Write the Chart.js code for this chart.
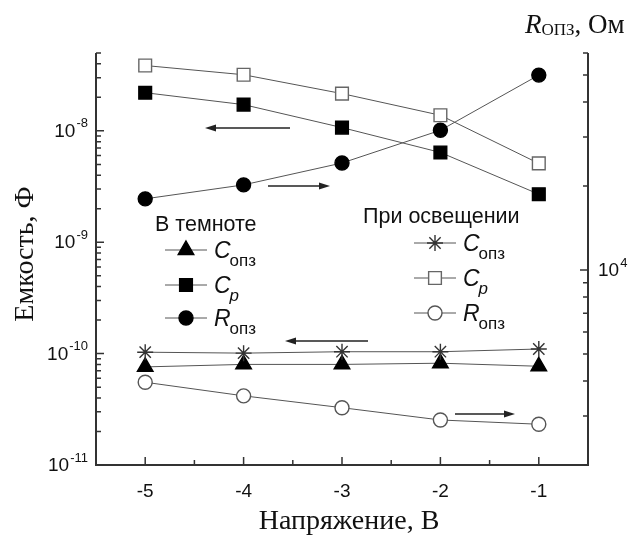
<!DOCTYPE html>
<html>
<head>
<meta charset="utf-8">
<script src="https://cdn.jsdelivr.net/npm/chart.js@4.4.0/dist/chart.umd.min.js"></script>
<style>
  html, body { margin: 0; padding: 0; background: #fff; }
  #wrap { width: 633px; height: 541px; }
</style>
</head>
<body>
<div id="wrap"><canvas id="chart" width="633" height="541"></canvas></div>
<script>
// напряжение, В
const voltage = [-5, -4, -3, -2, -1];

// емкость, Ф (левая ось)
const cpDark = [2.2e-8, 1.72e-8, 1.07e-8, 6.4e-9, 2.7e-9];
const cpLight = [3.86e-8, 3.19e-8, 2.16e-8, 1.38e-8, 5.1e-9];
const cDark = [7.6e-11, 8.0e-11, 8.0e-11, 8.2e-11, 7.7e-11];
const cLight = [1.03e-10, 1.01e-10, 1.04e-10, 1.04e-10, 1.10e-10];

// сопротивление ОПЗ, Ом (правая ось)
const rDark = [18000, 20200, 24200, 31700, 50000];
const rLight = [3960, 3540, 3210, 2900, 2800];

// подписи осей
const xTicks = [-5, -4, -3, -2, -1];
const xTickLabels = ['-5', '-4', '-3', '-2', '-1'];
const capDecades = [-11, -10, -9, -8];
const resDecades = [4];

const SANS = '"Liberation Sans", Arial, sans-serif';
const SERIF = '"Liberation Serif", "Times New Roman", serif';
const LINE = '#555';

const pts = arr => arr.map((v, i) => ({ x: voltage[i], y: v }));

function series(data, axis, style, radius, fill, stroke) {
  return {
    data: pts(data),
    yAxisID: axis,
    borderColor: LINE,
    borderWidth: 1,
    pointStyle: style,
    pointRadius: radius,
    pointBackgroundColor: fill,
    pointBorderColor: stroke,
    pointBorderWidth: 1.4,
    tension: 0
  };
}

function drawMarker(ctx, style, r, x, y, fill, stroke) {
  ctx.save();
  ctx.fillStyle = fill;
  ctx.strokeStyle = stroke;
  ctx.lineWidth = 1.4;
  Chart.helpers.drawPoint(ctx, { pointStyle: style, radius: r, borderWidth: 1.4 }, x, y);
  ctx.restore();
}

function sup(ctx, base, exp, xRight, y, align) {
  ctx.font = '19px ' + SANS;
  const wb = ctx.measureText(base).width;
  ctx.font = '13px ' + SANS;
  const we = ctx.measureText(exp).width;
  let x0 = align === 'right' ? xRight - wb - we - 1 : xRight;
  ctx.textBaseline = 'middle';
  ctx.textAlign = 'left';
  ctx.font = '19px ' + SANS;
  ctx.fillText(base, x0, y + 1);
  ctx.font = '13px ' + SANS;
  ctx.fillText(exp, x0 + wb + 1, y - 7);
}

function arrow(ctx, x1, y, x2) {
  const dir = x2 > x1 ? 1 : -1;
  ctx.save();
  ctx.strokeStyle = '#222';
  ctx.fillStyle = '#222';
  ctx.lineWidth = 1.6;
  ctx.beginPath();
  ctx.moveTo(x1, y);
  ctx.lineTo(x2 - dir * 6, y);
  ctx.stroke();
  ctx.beginPath();
  ctx.moveTo(x2, y);
  ctx.lineTo(x2 - dir * 11, y - 3.5);
  ctx.lineTo(x2 - dir * 11, y + 3.5);
  ctx.closePath();
  ctx.fill();
  ctx.restore();
}

function legendEntry(ctx, x, y, style, r, fill, stroke, main, sub, subItalic) {
  ctx.save();
  ctx.strokeStyle = LINE;
  ctx.lineWidth = 1;
  ctx.beginPath();
  ctx.moveTo(x, y);
  ctx.lineTo(x + 42, y);
  ctx.stroke();
  drawMarker(ctx, style, r, x + 21, y, fill, stroke);
  ctx.fillStyle = '#111';
  ctx.textAlign = 'left';
  ctx.textBaseline = 'alphabetic';
  ctx.font = 'italic 23px ' + SANS;
  ctx.fillText(main, x + 49, y + 8);
  const w = ctx.measureText(main).width;
  ctx.font = (subItalic ? 'italic ' : '') + '17px ' + SANS;
  ctx.fillText(sub, x + 49 + w - 1, y + 16);
  ctx.restore();
}

const decor = {
  id: 'decor',
  beforeDatasetsDraw(chart) {
    const ctx = chart.ctx;
    const a = chart.chartArea;
    const xs = chart.scales.x, yc = chart.scales.yC, yr = chart.scales.yR;
    ctx.save();
    ctx.strokeStyle = '#333';
    ctx.lineWidth = 2;
    ctx.beginPath();
    ctx.moveTo(a.left, a.top);
    ctx.lineTo(a.left, a.bottom);
    ctx.lineTo(a.right, a.bottom);
    ctx.lineTo(a.right, a.top);
    ctx.stroke();

    ctx.lineWidth = 1.5;
    ctx.beginPath();
    // нижняя ось
    for (let v = -5.5; v <= -0.5; v += 0.5) {
      const px = xs.getPixelForValue(v);
      const len = Number.isInteger(v) ? 8 : 5;
      ctx.moveTo(px, a.bottom);
      ctx.lineTo(px, a.bottom - len);
    }
    // левая ось
    for (let e = -11; e <= -8; e++) {
      for (let m = 1; m <= 9; m++) {
        const v = m * Math.pow(10, e);
        if (v < yc.min * 0.999 || v > yc.max * 1.001) continue;
        const py = yc.getPixelForValue(v);
        ctx.moveTo(a.left, py);
        ctx.lineTo(a.left + (m === 1 ? 8 : 5), py);
      }
    }
    // правая ось
    for (let e = 3; e <= 4; e++) {
      for (let m = 1; m <= 9; m++) {
        const v = m * Math.pow(10, e);
        if (v < yr.min * 0.999 || v > yr.max * 1.001) continue;
        const py = yr.getPixelForValue(v);
        ctx.moveTo(a.right, py);
        ctx.lineTo(a.right - (m === 1 ? 8 : 5), py);
      }
    }
    ctx.stroke();

    ctx.fillStyle = '#111';
    ctx.font = '19px ' + SANS;
    ctx.textAlign = 'center';
    ctx.textBaseline = 'middle';
    xTicks.forEach((v, i) => ctx.fillText(xTickLabels[i], xs.getPixelForValue(v), a.bottom + 27));

    capDecades.forEach(e => sup(ctx, '10', String(e), a.left - 8, yc.getPixelForValue(Math.pow(10, e)), 'right'));
    resDecades.forEach(e => sup(ctx, '10', String(e), a.right + 10, yr.getPixelForValue(Math.pow(10, e)), 'left'));

    // названия осей
    ctx.font = '28px ' + SERIF;
    ctx.textAlign = 'center';
    ctx.fillText('Напряжение, В', 349, 522);
    ctx.save();
    ctx.translate(26, 254);
    ctx.rotate(-Math.PI / 2);
    ctx.fillText('Емкость, Ф', 0, 0);
    ctx.restore();

    ctx.textAlign = 'left';
    ctx.textBaseline = 'alphabetic';
    ctx.font = 'italic 27px ' + SERIF;
    let x = 525;
    ctx.fillText('R', x, 33);
    x += ctx.measureText('R').width;
    ctx.font = '17px ' + SERIF;
    ctx.fillText('ОПЗ', x, 35);
    x += ctx.measureText('ОПЗ').width;
    ctx.font = '27px ' + SERIF;
    ctx.fillText(', Ом', x, 33);
    ctx.restore();
  },
  afterDatasetsDraw(chart) {
    const ctx = chart.ctx;
    ctx.save();
    arrow(ctx, 290, 128, 205);
    arrow(ctx, 268, 186, 330);
    arrow(ctx, 368, 341, 285);
    arrow(ctx, 455, 414, 515);

    ctx.fillStyle = '#111';
    ctx.font = '21.5px ' + SANS;
    ctx.textAlign = 'left';
    ctx.textBaseline = 'alphabetic';
    ctx.fillText('В темноте', 155, 231);
    ctx.fillText('При освещении', 363, 223);

    legendEntry(ctx, 165, 250, 'triangle', 9, '#000', '#000', 'C', 'опз', false);
    legendEntry(ctx, 165, 285, 'rect', 9, '#000', '#000', 'C', 'p', true);
    legendEntry(ctx, 165, 318, 'circle', 7, '#000', '#000', 'R', 'опз', false);

    legendEntry(ctx, 414, 243, 'star', 8, '#fff', '#333', 'C', 'опз', false);
    legendEntry(ctx, 414, 278, 'rect', 9, '#fff', '#666', 'C', 'p', true);
    legendEntry(ctx, 414, 313, 'circle', 7, '#fff', '#555', 'R', 'опз', false);
    ctx.restore();
  }
};

new Chart(document.getElementById('chart'), {
  type: 'line',
  data: {
    datasets: [
      series(cpLight, 'yC', 'rect', 9, '#fff', '#666'),
      series(cpDark, 'yC', 'rect', 9, '#000', '#000'),
      series(rDark, 'yR', 'circle', 7, '#000', '#000'),
      series(cLight, 'yC', 'star', 8, '#fff', '#333'),
      series(cDark, 'yC', 'triangle', 9, '#000', '#000'),
      series(rLight, 'yR', 'circle', 7, '#fff', '#555')
    ]
  },
  options: {
    responsive: false,
    animation: false,
    layout: { padding: { left: 96, right: 45, top: 53, bottom: 76 } },
    plugins: { legend: { display: false }, tooltip: { enabled: false } },
    scales: {
      x: { type: 'linear', min: -5.5, max: -0.5, display: false },
      yC: { type: 'logarithmic', position: 'left', min: 1e-11, max: 5e-8, display: false },
      yR: { type: 'logarithmic', position: 'right', min: 2000, max: 60000, display: false }
    }
  },
  plugins: [decor]
});
</script>
</body>
</html>
